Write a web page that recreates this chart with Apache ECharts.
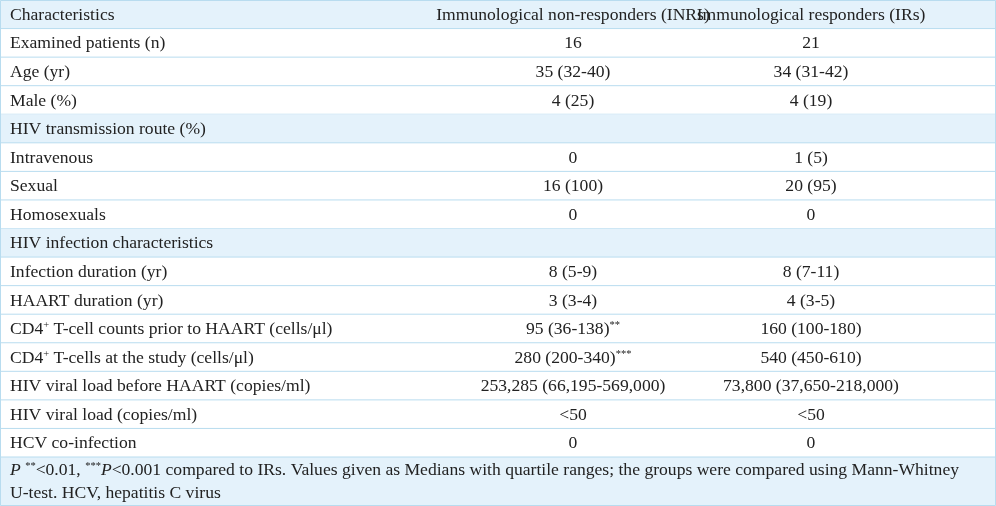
<!DOCTYPE html>
<html><head><meta charset="utf-8">
<script src="https://cdn.jsdelivr.net/npm/echarts@6/dist/echarts.min.js"></script>
<style>html,body{margin:0;padding:0;background:#fff}#c{width:996px;height:506px}</style>
</head><body><div id="c"></div>
<script>
const rowLabels = ["Characteristics","Examined patients (n)","Age (yr)","Male (%)","HIV transmission route (%)","Intravenous","Sexual","Homosexuals","HIV infection characteristics","Infection duration (yr)","HAART duration (yr)","CD4{s|+} T-cell counts prior to HAART (cells/μl)","CD4{s|+} T-cells at the study (cells/μl)","HIV viral load before HAART (copies/ml)","HIV viral load (copies/ml)","HCV co-infection"];
const inrValues = ["Immunological non-responders (INRs)","16","35 (32-40)","4 (25)","","0","16 (100)","0","","8 (5-9)","3 (3-4)","95 (36-138){s|**}","280 (200-340){s|***}","253,285 (66,195-569,000)","<50","0"];
const irValues = ["Immunological responders (IRs)","21","34 (31-42)","4 (19)","","1 (5)","20 (95)","0","","8 (7-11)","4 (3-5)","160 (100-180)","540 (450-610)","73,800 (37,650-218,000)","<50","0"];
const shadedRows = [1,0,0,0,1,0,0,0,1,0,0,0,0,0,0,0];
const footLines = ["{i|P} {s|**}<0.01, {s|***}{i|P}<0.001 compared to IRs. Values given as Medians with quartile ranges; the groups were compared using Mann-Whitney","U-test. HCV, hepatitis C virus"];

const FONT = "Liberation Serif";
const FS = 17.6;
const rich = {s:{fontSize:10.5,fontFamily:FONT,padding:[0,0,8,0],fill:'#222'},i:{fontStyle:'italic',fontSize:FS,fontFamily:FONT,fill:'#222'}};
const data = rowLabels.map((l,i)=>[i]);
const chart = echarts.init(document.getElementById('c'));
function txt(t,x,y,align){return {type:'text',style:{text:t,x:x,y:y,align:align,verticalAlign:'middle',fontFamily:FONT,fontSize:FS,fill:'#222',rich:rich}};}
chart.setOption({
  animation:false,
  grid:{left:0,right:0,top:0,height:457},
  xAxis:{type:'value',min:0,max:996,show:false},
  yAxis:{type:'category',data:rowLabels.map((_,i)=>i),inverse:true,show:false},
  series:[{type:'custom',data:data,renderItem:function(params,api){
    const i=api.value(0);
    const c=api.coord([0,i]);
    const h=api.size([0,1])[1];
    const top=c[1]-h/2;
    const ch=[];
    if(shadedRows[i]) ch.push({type:'rect',shape:{x:0,y:top,width:996,height:h},style:{fill:'#e4f2fb'}});
    ch.push({type:'line',shape:{x1:0,y1:top+h,x2:996,y2:top+h},style:{stroke:'#b8dcef',lineWidth:1}});
    ch.push(txt(rowLabels[i],10,c[1]+1,'left'));
    ch.push(txt(inrValues[i],573,c[1]+1,'center'));
    ch.push(txt(irValues[i],811,c[1]+1,'center'));
    return {type:'group',children:ch};
  }}],
  graphic:[
    {type:'rect',shape:{x:0,y:457,width:996,height:49},style:{fill:'#e4f2fb'}},
    {type:'text',style:{text:footLines[0],x:10,y:470,verticalAlign:'middle',fontFamily:FONT,fontSize:FS,fill:'#222',rich:rich}},
    {type:'text',style:{text:footLines[1],x:10,y:493,verticalAlign:'middle',fontFamily:FONT,fontSize:FS,fill:'#222',rich:rich}},
    {type:'rect',shape:{x:0.5,y:0.5,width:995,height:505},style:{fill:null,stroke:'#b8dcef',lineWidth:1},z:100}
  ]
});
</script></body></html>
